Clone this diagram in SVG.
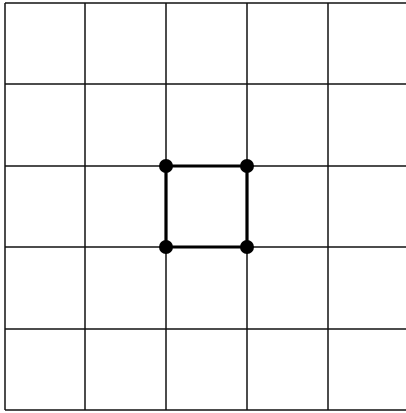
<svg xmlns="http://www.w3.org/2000/svg" width="406" height="413" viewBox="0 0 406 413">
<style>
.grid{stroke:#111;stroke-width:1.5;fill:none}
.edge{stroke:#000;stroke-width:3.2;fill:none}
.dot{fill:#000}
</style>
<rect width="406" height="413" fill="#fff"/>
<g id="grid" class="grid">
<line x1="5" y1="3" x2="5" y2="410"/>
<line x1="85" y1="3" x2="85" y2="410"/>
<line x1="166" y1="3" x2="166" y2="410"/>
<line x1="247" y1="3" x2="247" y2="410"/>
<line x1="328" y1="3" x2="328" y2="410"/>
<line x1="5" y1="3" x2="406" y2="3"/>
<line x1="5" y1="84" x2="406" y2="84"/>
<line x1="5" y1="166" x2="406" y2="166"/>
<line x1="5" y1="247" x2="406" y2="247"/>
<line x1="5" y1="329" x2="406" y2="329"/>
<line x1="5" y1="410" x2="406" y2="410"/>
</g>
<g id="connectors" class="edge">
<line x1="166" y1="166" x2="247" y2="166"/>
<line x1="247" y1="166" x2="247" y2="247"/>
<line x1="247" y1="247" x2="166" y2="247"/>
<line x1="166" y1="247" x2="166" y2="166"/>
</g>
<g id="n1"><circle class="dot" cx="166" cy="166" r="7"/></g>
<g id="n2"><circle class="dot" cx="247" cy="166" r="7"/></g>
<g id="n3"><circle class="dot" cx="247" cy="247" r="7"/></g>
<g id="n4"><circle class="dot" cx="166" cy="247" r="7"/></g>
</svg>
